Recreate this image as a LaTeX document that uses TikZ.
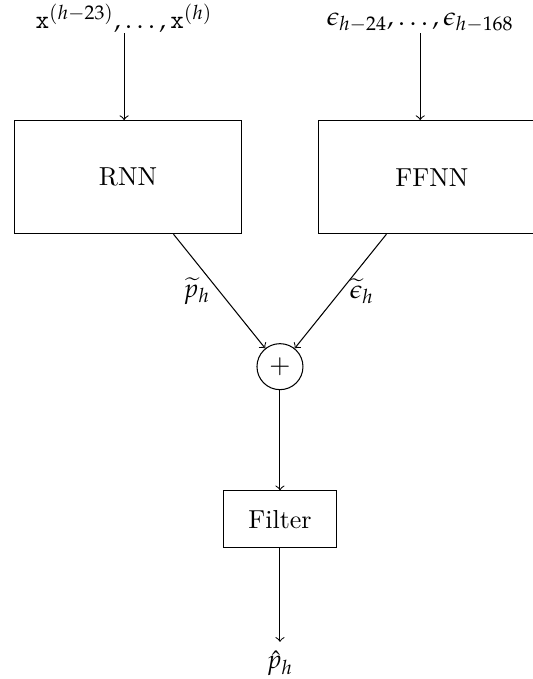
\documentclass[tikz,border=0pt]{standalone}
\usepackage{amsmath}
\usepackage{mathpazo}
\usetikzlibrary{positioning}

\begin{document}
\begin{tikzpicture}[node distance=33.5pt and 29.2pt, >=to]
\tikzstyle{block}=[rectangle, draw, minimum width=87.3pt, minimum height=43.5pt, align=center]
\tikzstyle{filt}=[rectangle, draw, minimum width=43.8pt, minimum height=21.9pt]
\tikzstyle{sum}=[circle, draw, minimum size=17.7pt, inner sep=0pt]
\tikzstyle{inp}=[inner sep=0pt]
\node[block] (rnn) {RNN};
\useasboundingbox ([shift={(-5.4pt,46.2pt)}]rnn.north west) rectangle ([shift={(199.6pt,-215pt)}]rnn.north west);
\node[block, right=of rnn] (ffnn) {FFNN};
\node[inp, above=of rnn, xshift=-1.5pt] (xin) {$\mathtt{x}^{(h-23)},\ldots,\mathtt{x}^{(h)}$};
\node[inp, above=of ffnn, xshift=-4.5pt] (epsin) {$\epsilon_{h-24},\ldots,\epsilon_{h-168}$};
\path (rnn.south) -- coordinate[midway] (mid) (ffnn.south);
\node[sum, below=41.9pt of mid] (add) {$+$};
\node[filt, below=38.5pt of add] (filter) {Filter};
\node[below=36pt of filter] (out) {$\hat{p}_h$};
\draw[->] (xin.south) -- (xin.south |- rnn.north);
\draw[->] (epsin.south) -- (epsin.south |- ffnn.north);
\draw[->] ([xshift=17.5pt]rnn.south) -- node[left]{$\widetilde{p}_h$} (add);
\draw[->] ([xshift=-17.5pt]ffnn.south) -- node[right]{$\widetilde{\epsilon}_h$} (add);
\draw[->] (add) -- (filter);
\draw[->] (filter) -- (out);
\end{tikzpicture}
\end{document}
